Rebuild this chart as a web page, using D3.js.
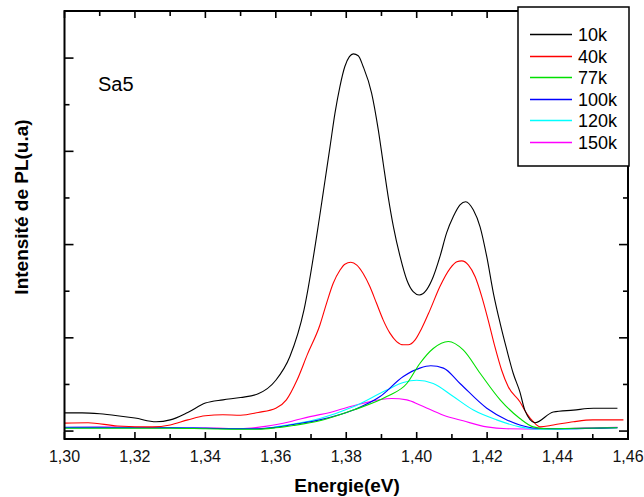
<!DOCTYPE html>
<html><head><meta charset="utf-8">
<script src="https://cdn.jsdelivr.net/npm/d3@7"></script>
<style>body{margin:0;background:#fff}svg{display:block}text{font-family:"Liberation Sans",Arial,sans-serif}</style>
</head><body><svg id="c" width="644" height="497"></svg>
<script>
// ---- data (energy in eV, intensity in arbitrary units) ----
const e10k = [1.300,1.305,1.310,1.315,1.320,1.326,1.330,1.335,1.340,1.345,1.350,1.355,1.360,1.364,1.368,1.3725,1.374,1.3754,1.3768,1.3782,1.3796,1.3809,1.382,1.3834,1.3848,1.3872,1.3891,1.3905,1.3919,1.3934,1.3953,1.3972,1.399,1.4007,1.4028,1.4047,1.4066,1.4085,1.4104,1.4123,1.4139,1.4161,1.418,1.4199,1.4218,1.4237,1.4256,1.4274,1.4293,1.4307,1.4336,1.4388,1.4445,1.4502,1.457];
const i10k = [0.39,0.39,0.37,0.33,0.28,0.20,0.24,0.40,0.60,0.67,0.72,0.80,1.09,1.6,2.6,4.63,5.39,6.10,6.82,7.39,7.82,8.03,8.09,8.05,7.82,7.25,6.46,5.74,5.03,4.38,3.74,3.24,2.99,2.92,3.03,3.31,3.74,4.25,4.60,4.85,4.92,4.74,4.38,3.74,2.95,2.31,1.74,1.24,0.84,0.45,0.18,0.41,0.45,0.49,0.49];
const e40k = [1.300,1.3067,1.315,1.325,1.330,1.335,1.340,1.345,1.350,1.355,1.360,1.363,1.366,1.369,1.3725,1.3744,1.3763,1.3782,1.3796,1.3813,1.383,1.3848,1.3867,1.3886,1.3905,1.3924,1.3943,1.3962,1.3976,1.3995,1.4014,1.4038,1.4066,1.4095,1.4114,1.4128,1.4147,1.4166,1.4185,1.4203,1.4222,1.4241,1.426,1.4293,1.4312,1.4331,1.435,1.4388,1.4445,1.450,1.4587];
const i40k = [0.17,0.18,0.11,0.09,0.13,0.24,0.33,0.35,0.34,0.40,0.49,0.67,1.09,1.65,2.27,2.74,3.17,3.45,3.58,3.62,3.56,3.38,3.10,2.74,2.38,2.10,1.92,1.85,1.85,1.95,2.20,2.60,3.10,3.49,3.63,3.65,3.56,3.31,2.88,2.38,1.81,1.31,0.95,0.63,0.38,0.20,0.09,0.13,0.20,0.24,0.24];
const e77k = [1.300,1.310,1.320,1.330,1.340,1.350,1.355,1.360,1.365,1.3725,1.382,1.3915,1.3972,1.4009,1.4047,1.409,1.4132,1.418,1.4237,1.4293,1.4331,1.437,1.445,1.457];
const i77k = [0.06,0.06,0.06,0.06,0.05,0.04,0.04,0.07,0.12,0.22,0.45,0.74,1.02,1.45,1.77,1.92,1.74,1.24,0.67,0.27,0.09,0.05,0.06,0.07];
const e100k = [1.300,1.310,1.320,1.330,1.340,1.350,1.355,1.360,1.365,1.3725,1.382,1.3896,1.3962,1.4009,1.404,1.4076,1.4123,1.4199,1.4256,1.4293,1.434,1.440,1.450,1.457];
const i100k = [0.07,0.07,0.07,0.07,0.06,0.05,0.05,0.08,0.14,0.24,0.45,0.74,1.17,1.35,1.40,1.35,1.02,0.49,0.24,0.13,0.06,0.05,0.06,0.07];
const e120k = [1.300,1.310,1.320,1.330,1.340,1.350,1.355,1.360,1.365,1.3725,1.382,1.3915,1.3962,1.400,1.4047,1.4104,1.4161,1.4227,1.4293,1.435,1.445,1.457];
const i120k = [0.08,0.08,0.07,0.07,0.06,0.05,0.05,0.09,0.15,0.27,0.52,0.88,1.04,1.09,1.02,0.74,0.45,0.24,0.09,0.04,0.05,0.07];
const e150k = [1.300,1.310,1.320,1.330,1.340,1.345,1.350,1.357,1.364,1.3697,1.3754,1.3839,1.3929,1.3972,1.4009,1.4076,1.4132,1.4199,1.4256,1.435,1.445,1.457];
const i150k = [0.08,0.09,0.08,0.07,0.07,0.06,0.05,0.10,0.20,0.31,0.40,0.58,0.70,0.67,0.56,0.34,0.22,0.09,0.05,0.04,0.06,0.08];
const seriesNames = ["10k","40k","77k","100k","120k","150k"];
const seriesColors = ["#000000","#ff0000","#00e000","#0000ff","#00ffff","#ff00ff"];
const xTickLabels = ["1,30","1,32","1,34","1,36","1,38","1,40","1,42","1,44","1,46"];
const xTitle = "Energie(eV)";
const yTitle = "Intensité de PL(u.a)";
const sampleLabel = "Sa5";

const energies = [e10k,e40k,e77k,e100k,e120k,e150k];
const intens = [i10k,i40k,i77k,i100k,i120k,i150k];

const svg = d3.select("#c");
const L = 64.5, R = 628, T = 11, B = 439;
const x = d3.scaleLinear().domain([1.30,1.46]).range([L,R]);
const y = d3.scaleLinear().domain([-0.17,9.01]).range([B,T]);

// curves
const line = d3.line().x(d=>x(d[0])).y(d=>y(d[1])).curve(d3.curveMonotoneX);
const g = svg.append("g");
for (let k = seriesNames.length-1; k >= 0; k--) {
  const pts = energies[k].map((e,i)=>[e,intens[k][i]]);
  g.append("path").attr("d",line(pts)).attr("fill","none")
    .attr("stroke",seriesColors[k]).attr("stroke-width",1.1);
}

// ticks (inside), mirrored
const xMajor = d3.range(0,9).map(i=>1.30+i*0.02);
const xMinor = d3.range(0,8).map(i=>1.31+i*0.02);
const yMajor = [0,2,4,6,8], yMinor = [1,3,5,7];
const tk = svg.append("g").attr("stroke","#000").attr("stroke-width",1.6);
xMajor.concat(xMinor).forEach((v,i)=>{
  const len = i < xMajor.length ? 7 : 5;
  const px = x(v);
  tk.append("line").attr("x1",px).attr("x2",px).attr("y1",B).attr("y2",B-len);
  tk.append("line").attr("x1",px).attr("x2",px).attr("y1",T).attr("y2",T+len);
});
yMajor.concat(yMinor).forEach((v,i)=>{
  const len = i < yMajor.length ? 9 : 5;
  const py = y(v);
  tk.append("line").attr("x1",L).attr("x2",L+len).attr("y1",py).attr("y2",py);
  tk.append("line").attr("x1",R).attr("x2",R-len).attr("y1",py).attr("y2",py);
});

// frame
svg.append("rect").attr("x",L).attr("y",T).attr("width",R-L).attr("height",B-T)
  .attr("fill","none").attr("stroke","#000").attr("stroke-width",2);

// x tick labels
svg.append("g").selectAll("text").data(xMajor).join("text")
  .attr("x",d=>x(d)).attr("y",462).attr("text-anchor","middle")
  .attr("font-size",16).attr("fill","#111").text((d,i)=>xTickLabels[i]);

// titles
svg.append("text").attr("x",347).attr("y",492).attr("text-anchor","middle")
  .attr("font-size",19).attr("font-weight","bold").text(xTitle);
svg.append("text").attr("transform","translate(28,207) rotate(-90)").attr("text-anchor","middle")
  .attr("font-size",19).attr("font-weight","bold").text(yTitle);
svg.append("text").attr("x",98).attr("y",91).attr("font-size",20).text(sampleLabel);

// legend
const lg = svg.append("g");
lg.append("rect").attr("x",518).attr("y",7).attr("width",111).attr("height",159)
  .attr("fill","#fff").attr("stroke","#000").attr("stroke-width",1.5);
seriesNames.forEach((n,i)=>{
  const ly = Math.round(34 + i*21.5) + 0.5;
  lg.append("line").attr("x1",530).attr("x2",572).attr("y1",ly).attr("y2",ly)
    .attr("stroke",seriesColors[i]).attr("stroke-width",1.5);
  lg.append("text").attr("x",578).attr("y",ly+6.5).attr("font-size",18).text(n);
});
</script></body></html>
